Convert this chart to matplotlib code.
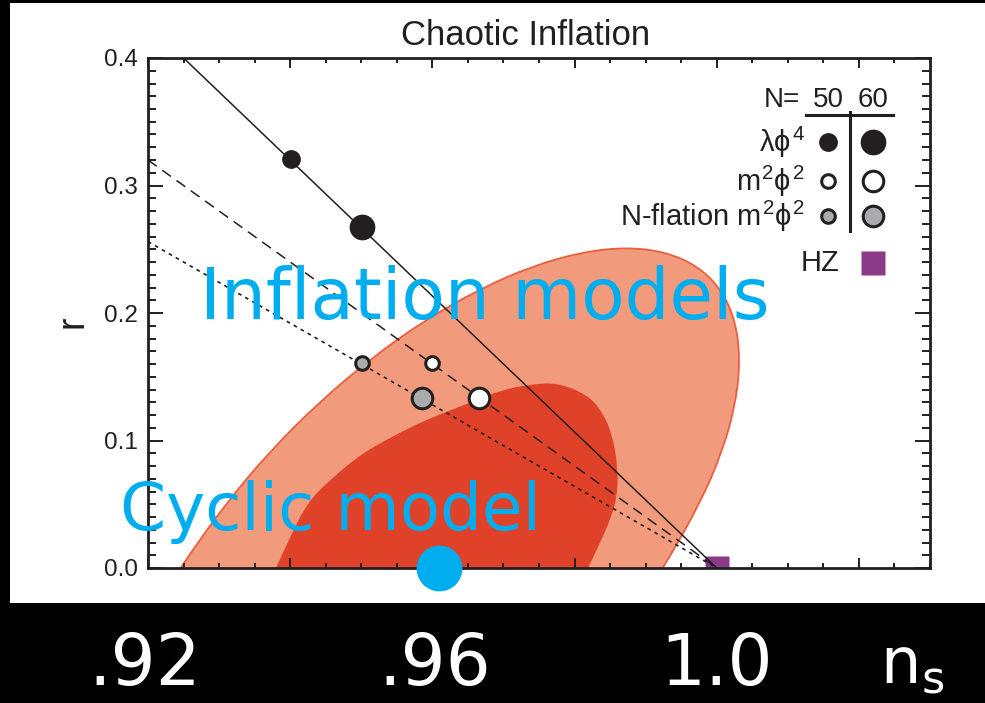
import matplotlib
matplotlib.use("Agg")
import matplotlib.pyplot as plt
from matplotlib.patches import Rectangle, PathPatch
from matplotlib.path import Path
from matplotlib.ticker import MultipleLocator, FormatStrFormatter
from matplotlib.transforms import blended_transform_factory

plt.rcParams['font.family'] = ['Liberation Sans', 'DejaVu Sans']
plt.rcParams['mathtext.fontset'] = 'custom'
plt.rcParams['mathtext.rm'] = 'Liberation Sans'
plt.rcParams['mathtext.it'] = 'Liberation Sans'
plt.rcParams['mathtext.bf'] = 'Liberation Sans:bold'
plt.rcParams['mathtext.sf'] = 'DejaVu Sans'

# ---------------- data ----------------
# 95% region (outer) boundary
outer_ns = [0.9246, 0.9255, 0.9309, 0.9371, 0.9440, 0.9514, 0.9590, 0.9667, 0.9741,
            0.9811, 0.9874, 0.9928, 0.9973, 1.0006, 1.0026, 1.0033, 1.0027, 1.0008,
            0.9976, 0.9933, 0.9924]
outer_r = [0.0, 0.0079, 0.0502, 0.0912, 0.1297, 0.1645, 0.1946, 0.2189, 0.2369,
           0.2479, 0.2516, 0.2479, 0.2369, 0.2189, 0.1946, 0.1645, 0.1297, 0.0912,
           0.0502, 0.0079, 0.0]
# 68% region (inner) boundary
inner_ns = [0.9380, 0.9400, 0.9424, 0.9456, 0.9502, 0.9554, 0.9592, 0.9653, 0.9699,
            0.9737, 0.9775, 0.9818, 0.9840, 0.9854, 0.9861, 0.9860, 0.9850, 0.9836,
            0.9819]
inner_r = [0.0, 0.0244, 0.0511, 0.0692, 0.0904, 0.1061, 0.1164, 0.1297, 0.1399,
           0.1439, 0.1454, 0.1360, 0.1219, 0.1030, 0.0770, 0.0558, 0.0377, 0.0197,
           0.0]

# model lines
lphi4_line_ns = [0.925, 1.0]
lphi4_line_r = [0.4, 0.0]
m2phi2_line_ns = [0.92, 1.0]
m2phi2_line_r = [0.32, 0.0]
nflation_line_ns = [0.92, 1.0]
nflation_line_r = [0.256, 0.0]

# model predictions for N = 50, 60
N_values = [50, 60]
lphi4_ns = [0.9401, 0.9501]
lphi4_r = [0.3208, 0.2675]
m2phi2_ns = [0.9600, 0.9665]
m2phi2_r = [0.1604, 0.1334]
nflation_ns = [0.9501, 0.9585]
nflation_r = [0.1604, 0.1334]

hz_ns = [1.0]
hz_r = [0.0]
cyclic_ns = [0.961]
cyclic_r = [0.0]

y_ticks = [0.0, 0.1, 0.2, 0.3, 0.4]
bottom_labels = ['.92', '.96', '1.0']
bottom_label_ns = [0.9195, 0.9603, 1.0]
ns_label_pos = 1.0275

# ---------------- styles ----------------
DARK = '#231f20'
OUTER = '#f19a7c'
OUTER_EDGE = '#e8603f'
INNER = '#e04229'
GRAY = '#ababad'
CYAN = '#00aeef'
PURPLE = '#8a3a88'
small_ms = {'black': 12.5, 'open': 9.8}
large_ms = {'black': 17.5, 'open': 14.8}


def smooth_path(xs, ys, closed_base=True):
    """Render a boundary through the library's Path with quadratic Bezier smoothing."""
    pts = list(zip(xs, ys))
    verts = [pts[0]]
    codes = [Path.MOVETO]
    for i in range(1, len(pts) - 1):
        ctrl = pts[i]
        if i < len(pts) - 2:
            end = ((pts[i][0] + pts[i + 1][0]) / 2, (pts[i][1] + pts[i + 1][1]) / 2)
        else:
            end = pts[-1]
        verts += [ctrl, end]
        codes += [Path.CURVE3, Path.CURVE3]
    if closed_base:
        verts.append(pts[0])
        codes.append(Path.LINETO)
    return Path(verts, codes)


fig = plt.figure(figsize=(9.85, 7.03), dpi=100, facecolor='black')
fig.patches.append(Rectangle((10 / 985, 100 / 703), 975 / 985, 600 / 703,
                             transform=fig.transFigure, facecolor='white',
                             edgecolor='none', zorder=-10))
ax = fig.add_axes([148 / 985, 135 / 703, 782 / 985, 510 / 703])
ax.set_zorder(1)
ax.set_facecolor('white')
ax.set_xlim(0.92, 1.03)
ax.set_ylim(0.0, 0.4)

# contours
ax.add_patch(PathPatch(smooth_path(outer_ns, outer_r), facecolor=OUTER,
                       edgecolor='none', zorder=1))
ax.add_patch(PathPatch(smooth_path(outer_ns, outer_r, closed_base=False), facecolor='none',
                       edgecolor=OUTER_EDGE, lw=1.3, zorder=1.2))
ax.add_patch(PathPatch(smooth_path(inner_ns, inner_r), facecolor=INNER,
                       edgecolor='none', zorder=1.5))

# HZ square (under lines)
ax.plot(hz_ns, hz_r, 's', ms=17.3, color=PURPLE, mec='none', zorder=2)

# lines
ax.plot(lphi4_line_ns, lphi4_line_r, '-', color=DARK, lw=1.1, zorder=3)
ax.plot(m2phi2_line_ns, m2phi2_line_r, color=DARK, lw=1.1, dashes=(7, 4.5), zorder=3)
ax.plot(nflation_line_ns, nflation_line_r, color=DARK, lw=1.2, dashes=(2.2, 2.6), zorder=3)

# points
for i, N in enumerate(N_values):
    ms_b = small_ms['black'] if N == 50 else large_ms['black']
    ms_o = small_ms['open'] if N == 50 else large_ms['open']
    ax.plot(lphi4_ns[i], lphi4_r[i], 'o', ms=ms_b, color=DARK, mec=DARK, zorder=4)
    ax.plot(m2phi2_ns[i], m2phi2_r[i], 'o', ms=ms_o, mfc='white', mec=DARK, mew=2.2, zorder=4)
    ax.plot(nflation_ns[i], nflation_r[i], 'o', ms=ms_o, mfc=GRAY, mec=DARK, mew=2.2, zorder=4)

# ticks / spines
ax.xaxis.set_major_locator(MultipleLocator(0.02))
ax.xaxis.set_minor_locator(MultipleLocator(0.005))
ax.set_yticks(y_ticks)
ax.yaxis.set_minor_locator(MultipleLocator(0.01))
ax.yaxis.set_major_formatter(FormatStrFormatter('%.1f'))
ax.tick_params(which='both', direction='in', top=True, right=True, width=1.4,
               color=DARK, labelbottom=False)
ax.tick_params(axis='x', which='major', length=7.5)
ax.tick_params(axis='x', which='minor', length=3.8)
ax.tick_params(axis='y', which='major', length=11, labelsize=17.5, pad=7, labelcolor=DARK)
ax.tick_params(axis='y', which='minor', length=6)
for sp in ax.spines.values():
    sp.set_linewidth(2.0)
    sp.set_color(DARK)
    sp.set_zorder(5)

# title and y label
ax.text(0.483, 1 + 13 / 510, 'Chaotic Inflation', transform=ax.transAxes,
        ha='center', va='baseline', fontsize=25, color=DARK)
ax.text(-0.097, 0.482, 'r', transform=ax.transAxes, rotation=90,
        ha='center', va='center', fontsize=27, color=DARK)

# legend (manual)
T = ax.transAxes
ax.text(0.834, 0.904, 'N=', transform=T, ha='right', va='baseline', fontsize=20, color=DARK)
for xx, N in zip([0.870, 0.927], N_values):
    ax.text(xx, 0.904, str(N), transform=T, ha='center', va='baseline', fontsize=20, color=DARK)
ax.plot([0.841, 0.953], [0.888, 0.888], transform=T, color=DARK, lw=2.2, clip_on=False, zorder=6)
ax.plot([0.898, 0.898], [0.894, 0.661], transform=T, color=DARK, lw=2.2, clip_on=False, zorder=6)
rows = [(r'$\lambda\phi^4$', 0.835, DARK, 'black'),
        (r'$m^2\phi^2$', 0.759, 'white', 'open'),
        (r'N-flation $m^2\phi^2$', 0.690, GRAY, 'open')]
for label, yy, fc, kind in rows:
    ax.text(0.840, yy, label, transform=T, ha='right', va='center', fontsize=21, color=DARK)
    for xx, ms in zip([0.870, 0.927], [small_ms[kind], large_ms[kind]]):
        if kind == 'black':
            ax.plot(xx, yy, 'o', ms=ms, color=DARK, transform=T, clip_on=False, zorder=6)
        else:
            ax.plot(xx, yy, 'o', ms=ms, mfc=fc, mec=DARK, mew=2.2, transform=T,
                    clip_on=False, zorder=6)
ax.text(0.884, 0.598, 'HZ', transform=T, ha='right', va='center', fontsize=21, color=DARK)
ax.plot(0.927, 0.598, 's', ms=17.3, color=PURPLE, mec='none', transform=T, clip_on=False, zorder=6)

# slide annotations
ax.text(0.9273, 0.195, 'Inflation models', ha='left', va='baseline', fontsize=51,
        color=CYAN, family='DejaVu Sans', zorder=8, clip_on=False)
ax.text(0.9161, 0.0299, 'Cyclic model', ha='left', va='baseline', fontsize=47.5,
        color=CYAN, family='DejaVu Sans', zorder=8, clip_on=False)
ax.plot(cyclic_ns, cyclic_r, 'o', ms=33, color=CYAN, mec='none', zorder=9, clip_on=False)

# bottom big labels
bt = blended_transform_factory(ax.transData, fig.transFigure)
for lab, xx in zip(bottom_labels, bottom_label_ns):
    ax.text(xx, 18 / 703, lab, transform=bt, ha='center', va='baseline', fontsize=51,
            color='white', family='DejaVu Sans', clip_on=False)
ax.text(ns_label_pos, 20 / 703, r'$\mathsf{n_s}$', transform=bt, ha='center',
        va='baseline', fontsize=46, color='white', clip_on=False)

fig.savefig('out.png', dpi=100, facecolor='black')
